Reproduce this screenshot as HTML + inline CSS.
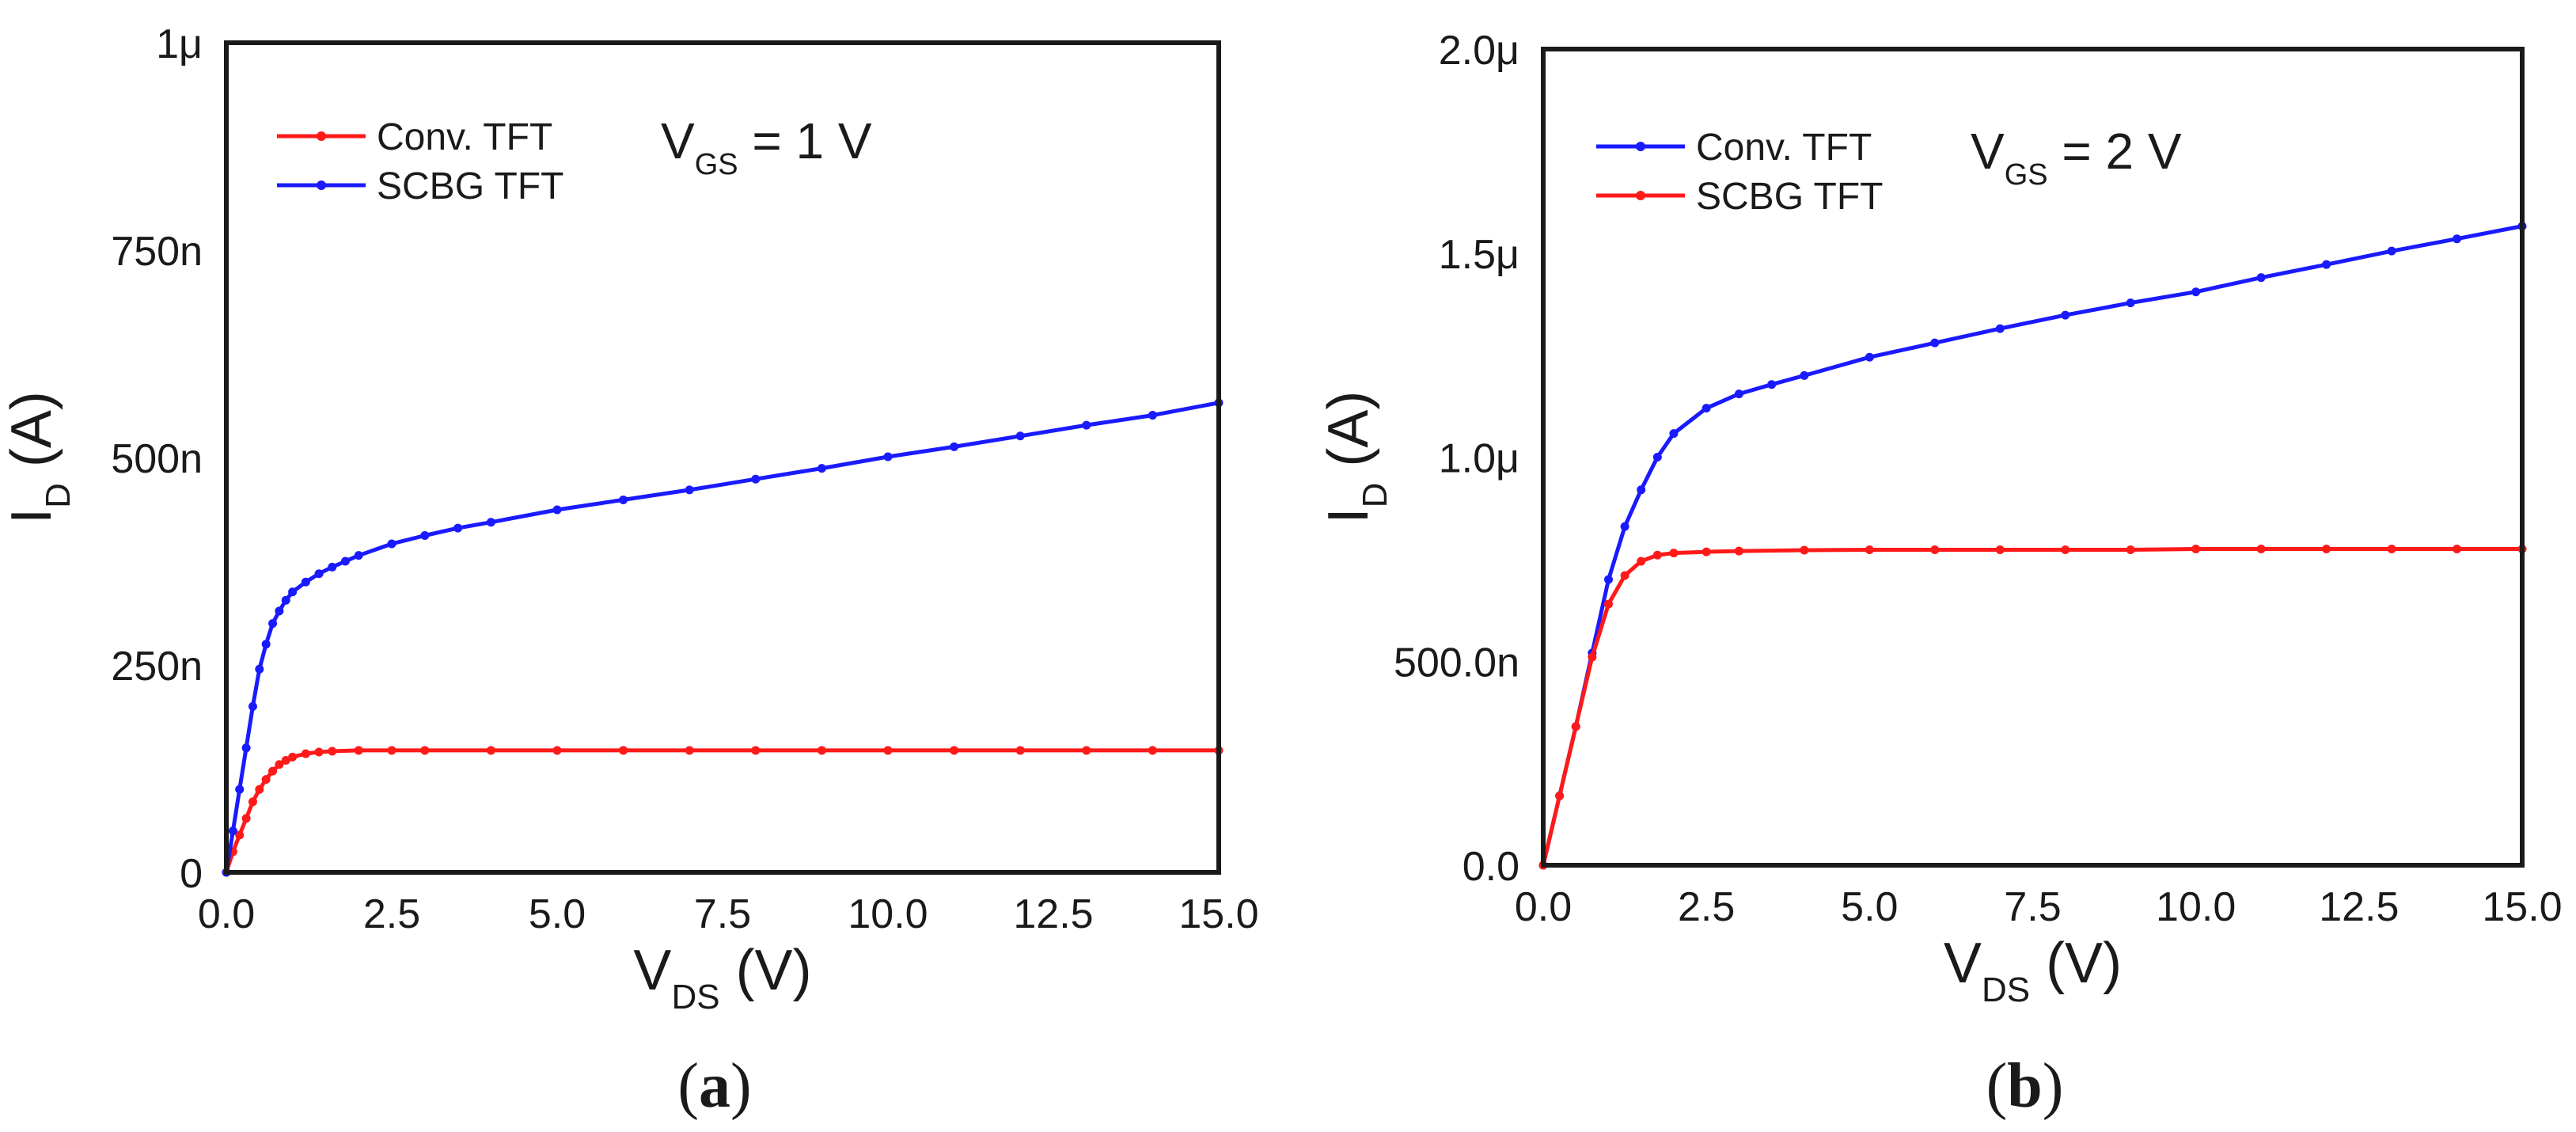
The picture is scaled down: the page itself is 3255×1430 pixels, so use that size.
<!DOCTYPE html>
<html><head><meta charset="utf-8"><style>
html,body{margin:0;padding:0;background:#fff;}
svg{display:block;}
text{font-family:"Liberation Sans",sans-serif;fill:#1a1a1a;}
.tick{font-size:52px;}
.serif{font-family:"Liberation Serif",serif;}
</style></head><body>
<svg id="fig" width="3255" height="1430" viewBox="0 0 3255 1430" xmlns="http://www.w3.org/2000/svg"></svg>
<script>
// Panel (a) data, VDS in V, ID in nA
const aConvX = [0,0.1,0.2,0.3,0.4,0.5,0.6,0.7,0.8,0.9,1.0,1.2,1.4,1.6,2.0,2.5,3,4,5,6,7,8,9,10,11,12,13,14,15];
const aConvY = [0,25,45,65,85,100,112,122,130,135,139,143,145,146,147,147,147,147,147,147,147,147,147,147,147,147,147,147,147];
const aScbgX = [0,0.1,0.2,0.3,0.4,0.5,0.6,0.7,0.8,0.9,1.0,1.2,1.4,1.6,1.8,2.0,2.5,3.0,3.5,4,5,6,7,8,9,10,11,12,13,14,15];
const aScbgY = [0,50,100,150,200,245,275,300,315,328,338,350,360,368,375,382,396,406,415,422,437,449,461,474,487,501,513,526,539,551,566];
const aYTicks = [0,250,500,750,1000];
const aYTickLabels = ["0","250n","500n","750n","1\u03bc"];
// Panel (b) data
const bConvX = [0,0.25,0.5,0.75,1.0,1.25,1.5,1.75,2.0,2.5,3,3.5,4,5,6,7,8,9,10,11,12,13,14,15];
const bConvY = [0,170,340,520,700,830,920,1000,1058,1120,1155,1178,1200,1245,1280,1315,1348,1378,1405,1440,1472,1505,1535,1566];
const bScbgX = [0,0.25,0.5,0.75,1.0,1.25,1.5,1.75,2,2.5,3,4,5,6,7,8,9,10,11,12,13,14,15];
const bScbgY = [0,170,340,510,640,710,745,760,765,768,770,772,773,773,773,773,773,775,775,775,775,775,775];
const bYTicks = [0,500,1000,1500,2000];
const bYTickLabels = ["0.0","500.0n","1.0\u03bc","1.5\u03bc","2.0\u03bc"];
const xTicks = [0,2.5,5,7.5,10,12.5,15];
const xTickLabels = ["0.0","2.5","5.0","7.5","10.0","12.5","15.0"];

const NS="http://www.w3.org/2000/svg";
const svg=document.getElementById('fig');
function mk(tag,attrs,parent){const e=document.createElementNS(NS,tag);for(const k in attrs)e.setAttribute(k,attrs[k]);(parent||svg).appendChild(e);return e;}

function panel(p){
  const g=mk('g',{});
  
  
  const sx=v=>p.L+(v-0)/15*(p.R-p.L);
  const sy=v=>p.B-v/p.ymax*(p.B-p.T);
  p.series.forEach(s=>{
    const sg=mk('g',{},g);
    
    
    const pts=s.x.map((x,i)=>sx(x).toFixed(1)+','+sy(s.y[i]).toFixed(1)).join(' ');
    const pl=mk('polyline',{points:pts,fill:'none',stroke:s.color,'stroke-width':5,'stroke-linejoin':'round'},sg);
    
    
    s.x.forEach((x,i)=>{
      const c=mk('circle',{cx:sx(x),cy:sy(s.y[i]),r:5.5,fill:s.color},sg);
      
      
    });
  });
  const fr=mk('rect',{x:p.L,y:p.T,width:p.R-p.L,height:p.B-p.T,fill:'none',stroke:'#1a1a1a','stroke-width':6},g);
  
  
  p.yt.forEach((v,i)=>{
    const t=mk('text',{x:p.L-30,y:sy(v)+19,'text-anchor':'end',class:'tick'},g);
    t.textContent=p.ytl[i];
    
    
  });
  xTicks.forEach((v,i)=>{
    const t=mk('text',{x:sx(v),y:p.B+70,'text-anchor':'middle',class:'tick'},g);
    t.textContent=xTickLabels[i];
    
    
  });
  const xt=mk('text',{x:(p.L+p.R)/2,y:p.B+148,'text-anchor':'middle','font-size':72},g);
  xt.innerHTML='V<tspan font-size="44" dy="24">DS</tspan><tspan dy="-24"> (V)</tspan>';
  
  
  const yt=mk('text',{x:0,y:0,'text-anchor':'middle','font-size':72,transform:'translate('+(p.L-222)+','+((p.T+p.B)/2)+') rotate(-90)'},g);
  yt.innerHTML='I<tspan font-size="44" dy="24">D</tspan><tspan dy="-24"> (A)</tspan>';
  
  
  p.series.forEach((s,i)=>{
    const ly=p.legY+i*62;
    const lg=mk('g',{},g);
    
    
    mk('line',{x1:p.legX,y1:ly,x2:p.legX+112,y2:ly,stroke:s.color,'stroke-width':5},lg);
    mk('circle',{cx:p.legX+56,cy:ly,r:6,fill:s.color},lg);
    const t=mk('text',{x:p.legX+126,y:ly+17,'font-size':48},lg);
    t.textContent=s.label;
  });
  const vg=mk('text',{x:p.vgsX,y:p.legY+28,'font-size':64},g);
  vg.innerHTML='V<tspan font-size="38" dy="20">GS</tspan><tspan dy="-20"> = '+p.vgs+' V</tspan>';
  
  
  const cap=mk('text',{x:(p.L+p.R)/2-10,y:1398,'text-anchor':'middle','font-size':80,class:'serif'},g);
  cap.innerHTML='(<tspan font-weight="bold">'+p.id+'</tspan>)';
  
  
}

panel({id:'a',L:286,R:1540,T:54,B:1102,ymax:1000,yt:aYTicks,ytl:aYTickLabels,legX:350,legY:172,vgsX:835,vgs:'1',
  series:[{name:'conv',label:'Conv. TFT',color:'#ff1a1a',x:aConvX,y:aConvY},{name:'scbg',label:'SCBG TFT',color:'#1a1aff',x:aScbgX,y:aScbgY}]});
panel({id:'b',L:1950,R:3187,T:62,B:1093,ymax:2000,yt:bYTicks,ytl:bYTickLabels,legX:2017,legY:185,vgsX:2490,vgs:'2',
  series:[{name:'conv',label:'Conv. TFT',color:'#1a1aff',x:bConvX,y:bConvY},{name:'scbg',label:'SCBG TFT',color:'#ff1a1a',x:bScbgX,y:bScbgY}]});
</script>
</body></html>
